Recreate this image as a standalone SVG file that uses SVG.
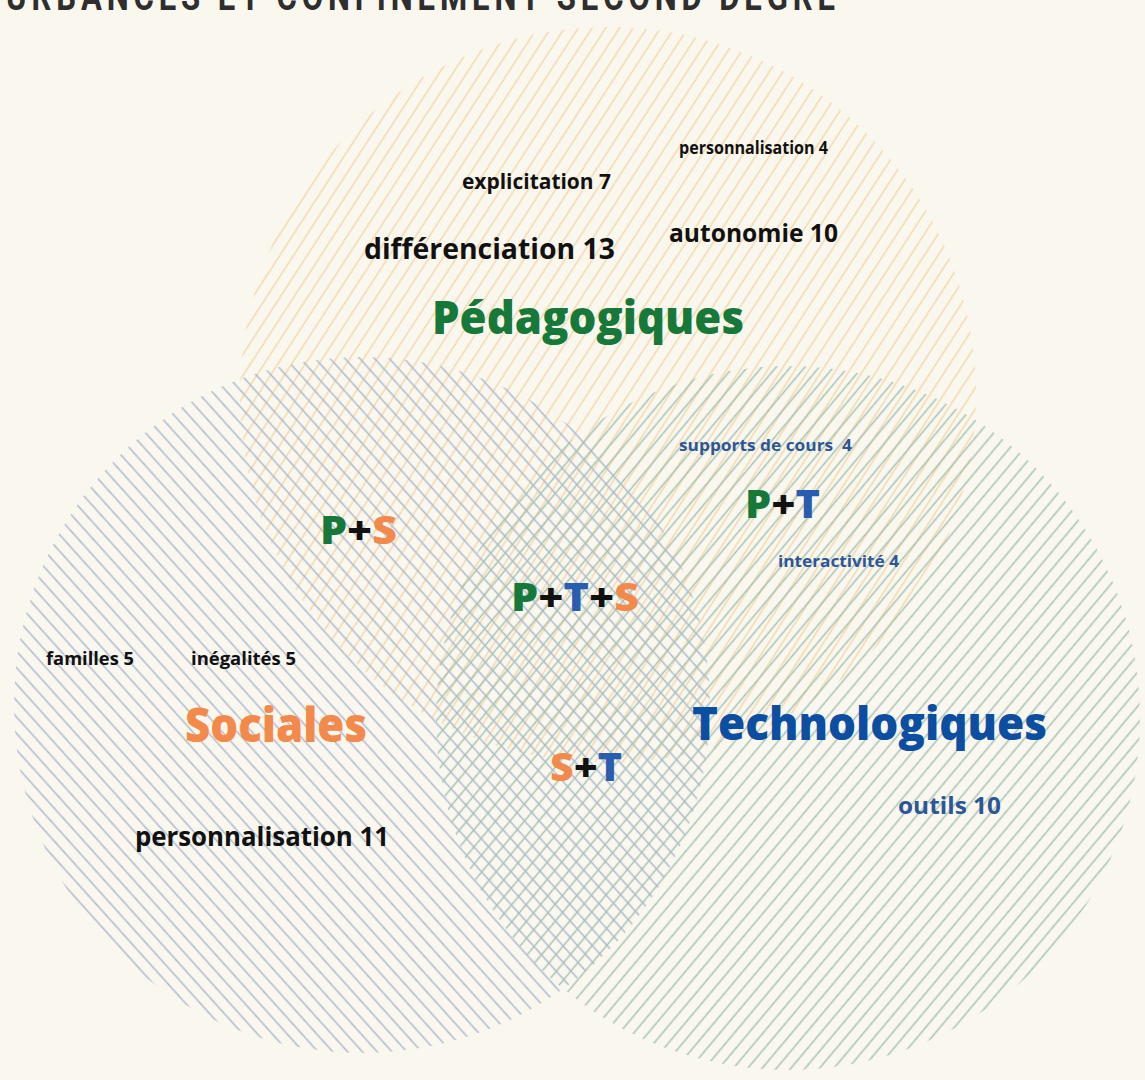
<svg xmlns="http://www.w3.org/2000/svg" width="1145" height="1080" viewBox="0 0 1145 1080">
<defs>
<pattern id="hatchP" patternUnits="userSpaceOnUse" width="11.5" height="10" patternTransform="rotate(33)">
<line x1="5.75" y1="-1" x2="5.75" y2="11" stroke="#f4d9ad" stroke-width="1.5"/>
</pattern>
<pattern id="hatchS" patternUnits="userSpaceOnUse" width="11" height="10" patternTransform="rotate(-42)">
<line x1="5.5" y1="-1" x2="5.5" y2="11" stroke="#abb9ce" stroke-width="1.5"/>
</pattern>
<pattern id="hatchT" patternUnits="userSpaceOnUse" width="11" height="10" patternTransform="rotate(40)">
<line x1="5.5" y1="-1" x2="5.5" y2="11" stroke="#a5c2b3" stroke-width="1.5"/>
</pattern>
</defs>
<style>
text{font-family:"Open Sans","Noto Sans","Liberation Sans",sans-serif;font-weight:700}
.title{font-family:"Roboto","Liberation Sans",sans-serif;font-weight:700;fill:#2e2e2e;font-size:38px}
.k{fill:#111111}
.b{fill:#2d5697}
.big{font-weight:800}
.g{fill:#16793a}
.o{fill:#f38a4b}
.t{fill:#2a5caf}
.blk{fill:#111111}
.tech{fill:#0c4ea2}
</style>
<rect width="1145" height="1080" fill="#faf7ef"/>
<text class="title" x="6" y="10" textLength="834" lengthAdjust="spacingAndGlyphs" letter-spacing="6">URBANCES ET CONFINEMENT SECOND DEGRE</text>
<g id="circle-pedagogiques"><circle cx="608" cy="395" r="368" fill="url(#hatchP)"/></g>
<g id="circle-sociales"><circle cx="362" cy="705" r="348" fill="url(#hatchS)"/></g>
<g id="circle-technologiques"><circle cx="788" cy="718" r="352" fill="url(#hatchT)"/></g>
<g id="connectors"/>
<g id="label-pedagogiques">
<text class="k" x="679" y="154" font-size="17" textLength="149" lengthAdjust="spacingAndGlyphs">personnalisation 4</text>
<text class="k" x="462" y="189" font-size="21" textLength="149" lengthAdjust="spacingAndGlyphs">explicitation 7</text>
<text class="k" x="669" y="242" font-size="25" textLength="169" lengthAdjust="spacingAndGlyphs">autonomie 10</text>
<text class="k" x="364" y="259" font-size="28" textLength="251" lengthAdjust="spacingAndGlyphs">différenciation 13</text>
<text class="g big" x="432" y="334" font-size="46" textLength="312" lengthAdjust="spacingAndGlyphs">Pédagogiques</text>
</g>
<g id="label-pt">
<text class="b" x="679" y="451" font-size="16" textLength="173" lengthAdjust="spacingAndGlyphs">supports de cours&#160; 4</text>
<text x="745" y="518" font-size="39" class="big" textLength="75" lengthAdjust="spacingAndGlyphs"><tspan class="g">P</tspan><tspan class="blk">+</tspan><tspan class="t">T</tspan></text>
<text class="b" x="778" y="567" font-size="16" textLength="121" lengthAdjust="spacingAndGlyphs">interactivité 4</text>
</g>
<g id="label-ps">
<text x="320" y="544" font-size="39" class="big" textLength="77" lengthAdjust="spacingAndGlyphs"><tspan class="g">P</tspan><tspan class="blk">+</tspan><tspan class="o">S</tspan></text>
</g>
<g id="label-pts">
<text x="511" y="611" font-size="39" class="big" textLength="128" lengthAdjust="spacingAndGlyphs"><tspan class="g">P</tspan><tspan class="blk">+</tspan><tspan class="t">T</tspan><tspan class="blk">+</tspan><tspan class="o">S</tspan></text>
</g>
<g id="label-sociales">
<text class="k" x="46" y="665" font-size="17" textLength="88" lengthAdjust="spacingAndGlyphs">familles 5</text>
<text class="k" x="191" y="665" font-size="17" textLength="105" lengthAdjust="spacingAndGlyphs">inégalités 5</text>
<text class="o big" x="185" y="742" font-size="48" textLength="182" lengthAdjust="spacingAndGlyphs">Sociales</text>
<text class="k" x="135" y="846" font-size="27" textLength="254" lengthAdjust="spacingAndGlyphs">personnalisation 11</text>
</g>
<g id="label-st">
<text x="550" y="781" font-size="39" class="big" textLength="72" lengthAdjust="spacingAndGlyphs"><tspan class="o">S</tspan><tspan class="blk">+</tspan><tspan class="t">T</tspan></text>
</g>
<g id="label-technologiques">
<text class="tech big" x="692" y="740" font-size="46" textLength="355" lengthAdjust="spacingAndGlyphs">Technologiques</text>
<text class="b" x="898" y="814" font-size="23" textLength="103" lengthAdjust="spacingAndGlyphs">outils 10</text>
</g>
</svg>
